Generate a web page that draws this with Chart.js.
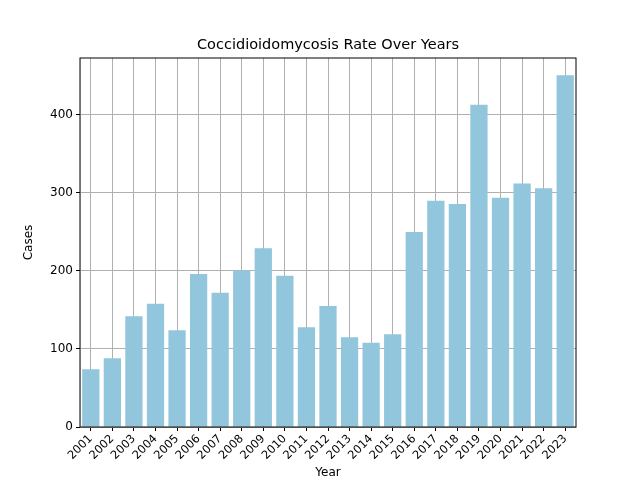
<!DOCTYPE html>
<html><head><meta charset="utf-8">
<script src="https://cdn.jsdelivr.net/npm/chart.js@4"></script>
<style>html,body{margin:0;padding:0;background:#fff}</style>
</head><body>
<div style="width:640px;height:480px"><canvas id="c"></canvas></div>
<script>
const years = ["2001","2002","2003","2004","2005","2006","2007","2008","2009","2010","2011","2012","2013","2014","2015","2016","2017","2018","2019","2020","2021","2022","2023"];
const cases = [74,88,142,158,124,196,172,201,229,194,128,155,115,108,119,250,290,286,413,294,312,306,451];
const yTicks = [0,100,200,300,400];
const chartTitle = 'Coccidioidomycosis Rate Over Years';

const frame = {
  id:'frame',
  afterDraw(ch){
    const a=ch.chartArea, x=ch.ctx;
    x.save(); x.strokeStyle='#000'; x.lineWidth=1;
    x.strokeRect(a.left,a.top,a.right-a.left,a.bottom-a.top);
    x.fillStyle='#000'; x.font="14.5px 'DejaVu Sans'"; x.textAlign='center'; x.textBaseline='alphabetic';
    x.fillText(chartTitle,(a.left+a.right)/2,49);
    x.restore();
  }
};
Chart.defaults.font.family = "'DejaVu Sans'";
Chart.defaults.color = '#000';
new Chart(document.getElementById('c'), {
  type:'bar',
  data:{labels:years, datasets:[{data:cases, backgroundColor:'#92c6dc', barPercentage:0.8, categoryPercentage:1.0}]},
  options:{
    responsive:true, maintainAspectRatio:false, animation:false,
    layout:{padding:{top:58,right:64,left:22,bottom:0}},
    plugins:{legend:{display:false}, tooltip:{enabled:false}, title:{display:false}},
    scales:{
      x:{
        grid:{offset:false, color:'#b0b0b0', tickColor:'#000', tickLength:4},
        ticks:{autoSkip:false, maxRotation:45, minRotation:45, font:{size:11.5}, padding:1},
        title:{display:true, text:'Year', font:{size:12}, padding:{top:0,bottom:0}},
        afterFit(s){ s.height = 53; }
      },
      y:{
        min:0, max:473,
        afterBuildTicks(s){ s.ticks = yTicks.map(v=>({value:v})); },
        grid:{color:'#b0b0b0', tickColor:'#000', tickLength:4},
        ticks:{font:{size:12}},
        title:{display:true, text:'Cases', font:{size:12}, padding:0},
        afterFit(s){ s.width = 58; }
      }
    }
  },
  plugins:[frame]
});
</script>
</body></html>
